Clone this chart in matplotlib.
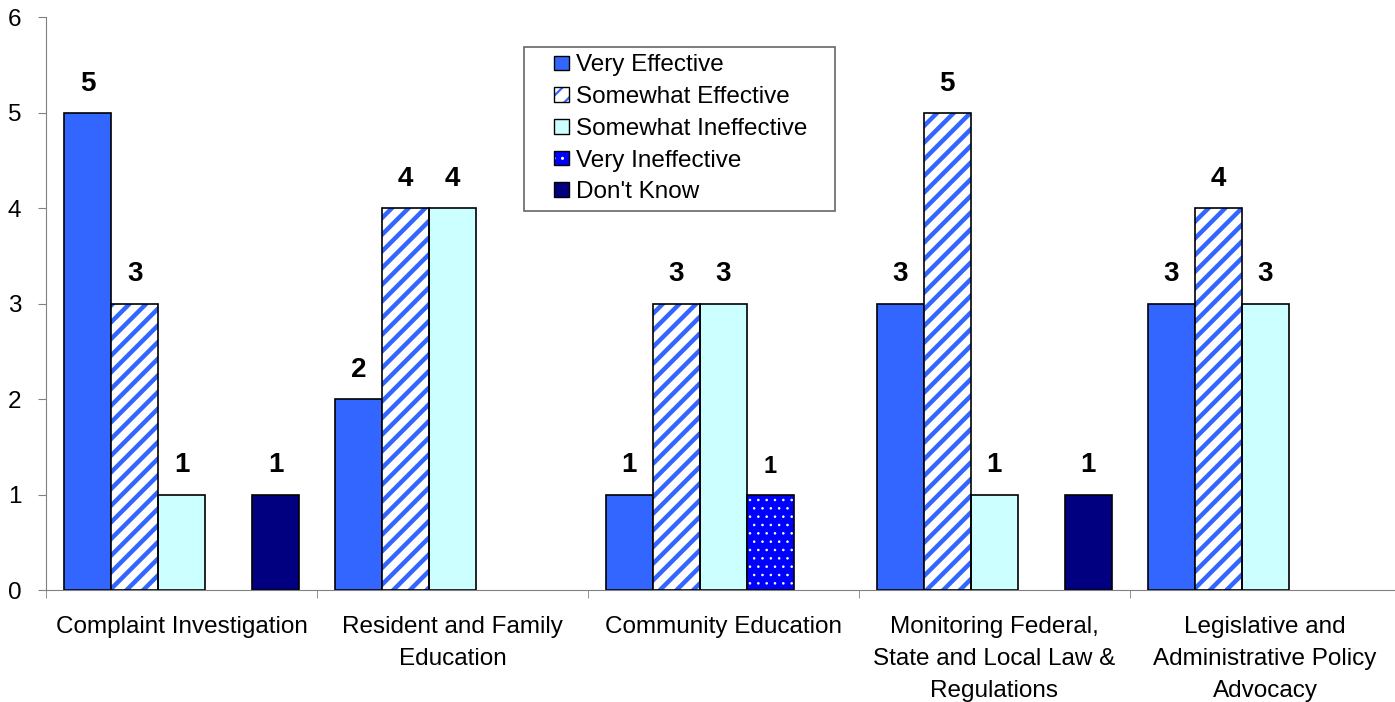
import numpy as np
import matplotlib.pyplot as plt
from matplotlib.patches import Rectangle
from matplotlib.legend_handler import HandlerBase

plt.rcParams['font.family'] = ['Liberation Sans', 'DejaVu Sans']

categories = ['Complaint Investigation', 'Resident and Family\nEducation',
              'Community Education', 'Monitoring Federal,\nState and Local Law &\nRegulations',
              'Legislative and\nAdministrative Policy\nAdvocacy']
series = ['Very Effective', 'Somewhat Effective', 'Somewhat Ineffective',
          'Very Ineffective', "Don't Know"]
# values per series (0 = no bar)
very_effective = [5, 2, 1, 3, 3]
somewhat_effective = [3, 4, 3, 5, 4]
somewhat_ineffective = [1, 4, 3, 1, 3]
very_ineffective = [0, 0, 1, 0, 0]
dont_know = [1, 0, 0, 1, 0]
values = [very_effective, somewhat_effective, somewhat_ineffective,
          very_ineffective, dont_know]

faces = ['#3366FF', 'white', '#CCFFFF', '#0000FF', '#000080']
hatches = [None, '//', None, '..', None]
hatch_cols = [None, '#3366FF', None, 'white', None]
hatch_lws = [1, 3.2, 1, 0.6, 1]


class SquareHandler(HandlerBase):
    # small square at the right end of the handle box, hatch drawn separately from outline
    def __init__(self, j):
        super().__init__()
        self.j = j

    def create_artists(self, legend, orig_handle, xdescent, ydescent, width, height, fontsize, trans):
        s = height * 1.0
        x0 = width - s - xdescent
        y0 = -ydescent + (height - s) / 2
        j = self.j
        arts = []
        if hatches[j]:
            plt.rcParams['hatch.linewidth'] = 1.6 if j == 1 else 1.0
            fill = Rectangle((x0, y0), s, s, facecolor=faces[j], hatch=hatches[j],
                             edgecolor=hatch_cols[j], linewidth=0, transform=trans)
            arts.append(fill)
            arts.append(Rectangle((x0, y0), s, s, fill=False, edgecolor='black',
                                  linewidth=1, transform=trans))
        else:
            arts.append(Rectangle((x0, y0), s, s, facecolor=faces[j], edgecolor='black',
                                  linewidth=1, transform=trans))
        return arts


fig = plt.figure(figsize=(13.95, 7.02), dpi=100)
ax = fig.add_axes([0.0333, 0.1595, 0.9706, 0.8157])

w = 0.1736
x = np.arange(len(categories))
handles = []
for j, vals in enumerate(values):
    pos = x + (j - 2) * w
    v = np.array(vals, dtype=float)
    mask = v > 0
    if hatches[j]:
        plt.rcParams['hatch.linewidth'] = hatch_lws[j]
        bars = ax.bar(pos[mask], v[mask], w, color=faces[j], hatch=hatches[j],
                      edgecolor=hatch_cols[j], linewidth=0, zorder=2)
        for b in bars:
            if hasattr(b, 'set_hatch_linewidth'):
                b.set_hatch_linewidth(hatch_lws[j])
        ax.bar(pos[mask], v[mask], w, fill=False, edgecolor='black', linewidth=1.2, zorder=3)
    else:
        ax.bar(pos[mask], v[mask], w, color=faces[j], edgecolor='black',
               linewidth=1.2, zorder=2)
    handles.append(Rectangle((0, 0), 1, 1, label=series[j]))
    for xp, vv in zip(pos[mask], v[mask]):
        fs = 17 if j == 3 else 20
        ax.text(xp, vv + 0.17, f'{int(vv)}', ha='center', va='bottom',
                fontsize=fs, fontweight='bold')

ax.set_xlim(-0.5, 4.5)
ax.set_ylim(0, 6)
ax.set_yticks(range(7))
ax.tick_params(axis='y', labelsize=17.5, length=6, color='#808080', pad=12)
ax.set_xticks(x)
ax.set_xticklabels(categories, fontsize=17.5, linespacing=1.57)
ax.tick_params(axis='x', which='major', length=0, pad=19)
ax.set_xticks(np.arange(-0.5, 4.6, 1), minor=True)
ax.tick_params(axis='x', which='minor', length=6, color='#808080')
for s in ['top', 'right']:
    ax.spines[s].set_visible(False)
for s in ['left', 'bottom']:
    ax.spines[s].set_color('#808080')

leg = ax.legend(handles, [s + '   ' for s in series], loc='upper left',
                bbox_to_anchor=(0.3525, 0.948),
                handler_map={handles[j]: SquareHandler(j) for j in range(5)},
                fontsize=17.5, frameon=True, fancybox=False, edgecolor='black',
                handlelength=1.55, handleheight=0.55, handletextpad=0.3,
                borderpad=0.3, labelspacing=0.40, borderaxespad=0)
leg.get_frame().set_linewidth(1.2)
leg.get_frame().set_edgecolor('#404040')
fig.savefig('out.png', dpi=100)
